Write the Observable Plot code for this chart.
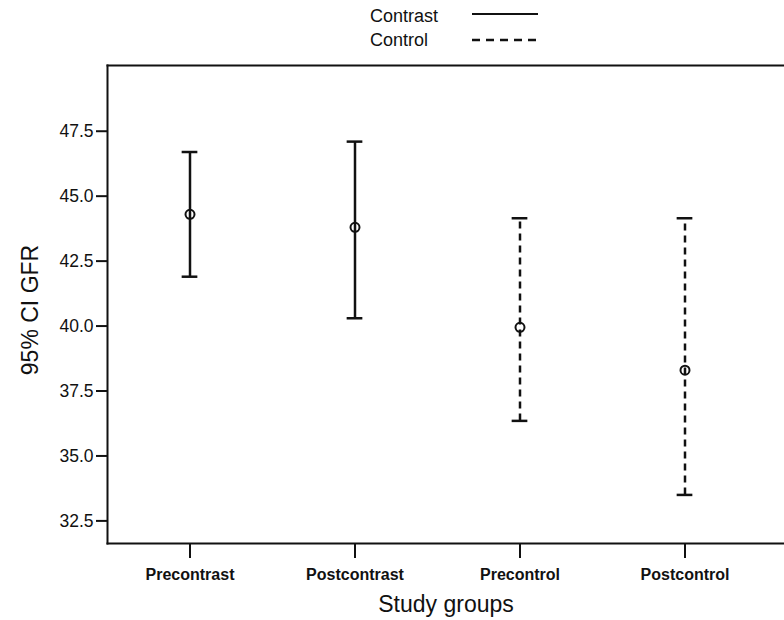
<!DOCTYPE html>
<html>
<head>
<meta charset="utf-8">
<script src="https://cdn.jsdelivr.net/npm/d3@7"></script>
<script src="https://cdn.jsdelivr.net/npm/@observablehq/plot@0.6"></script>
<style>
  body { margin: 0; background: #fff; font-family: "Liberation Sans", Arial, sans-serif; }
  #wrap { position: relative; width: 784px; }
  #legend { position: relative; height: 50px; width: 784px; }
  .lg { position: absolute; font-size: 18px; color: #111; line-height: 20px; }
  #ylab { position: absolute; left: 30px; top: 310px; font-size: 23px; color: #111; white-space: nowrap;
          transform: translate(-50%, -50%) rotate(-90deg); line-height: 26px; }
</style>
</head>
<body>
<div id="wrap">
  <div id="legend">
    <div class="lg" style="left:370px; top:6px;">Contrast</div>
    <div class="lg" style="left:370px; top:30px;">Control</div>
    <svg style="position:absolute; left:0; top:0;" width="784" height="50">
      <line x1="472" x2="538" y1="14" y2="14" stroke="#111" stroke-width="2"/>
      <line x1="472" x2="538" y1="40" y2="40" stroke="#111" stroke-width="2.5" stroke-dasharray="8,6"/>
    </svg>
  </div>
  <div id="chart"></div>
  <div id="ylab"></div>
</div>
<script>
const groups = ["Precontrast", "Postcontrast", "Precontrol", "Postcontrol"];
const arms   = ["Contrast", "Contrast", "Control", "Control"];
const means  = [44.3, 43.8, 39.95, 38.3];
const lower  = [41.9, 40.3, 36.35, 33.5];
const upper  = [46.7, 47.1, 44.15, 44.15];
const yTicks = [32.5, 35.0, 37.5, 40.0, 42.5, 45.0, 47.5];
const yLabel = "95% CI GFR";
const xLabel = "Study groups";

const data = groups.map((g, i) => ({group: g, arm: arms[i], mean: means[i], lo: lower[i], hi: upper[i]}));
const contrast = data.filter(d => d.arm === "Contrast");
const control = data.filter(d => d.arm === "Control");

const capHalf = 8;
const step = 165.3;
const inset = step / 2 - capHalf;

const plot = Plot.plot({
  width: 784,
  height: 570,
  marginLeft: 107,
  marginRight: 0,
  marginTop: 15,
  marginBottom: 77,
  style: {fontFamily: "Liberation Sans, Arial, sans-serif", color: "#111", background: "#fff"},
  x: {type: "band", domain: groups, paddingInner: 0, paddingOuter: 0.048, align: 0, axis: null},
  y: {domain: [31.63, 50.03], axis: null},
  marks: [
    Plot.frame({anchor: "top", stroke: "#111", strokeWidth: 2}),
    Plot.frame({anchor: "left", stroke: "#111", strokeWidth: 2}),
    Plot.frame({anchor: "bottom", stroke: "#111", strokeWidth: 2}),
    Plot.axisY({ticks: yTicks, tickFormat: d3.format(".1f"), tickSize: 11, tickPadding: 3, fontSize: 17.5, label: null, strokeWidth: 2}),
    Plot.axisX({tickSize: 15, tickPadding: 10, fontSize: 16, fontWeight: "bold", label: null, strokeWidth: 2}),
    Plot.text([xLabel], {frameAnchor: "bottom", dy: 68, fontSize: 23}),
    Plot.ruleX(contrast, {x: "group", y1: "lo", y2: "hi", stroke: "#111", strokeWidth: 2.5}),
    Plot.ruleX(control, {x: "group", y1: "lo", y2: "hi", stroke: "#111", strokeWidth: 2.5, strokeDasharray: "7,5"}),
    Plot.tickY(data, {x: "group", y: "lo", stroke: "#111", strokeWidth: 2.5, insetLeft: inset, insetRight: inset}),
    Plot.tickY(data, {x: "group", y: "hi", stroke: "#111", strokeWidth: 2.5, insetLeft: inset, insetRight: inset}),
    Plot.dot(data, {x: "group", y: "mean", r: 4.5, stroke: "#111", strokeWidth: 2, fill: "none"})
  ]
});
document.getElementById("chart").appendChild(plot);
document.getElementById("ylab").textContent = yLabel;
</script>
</body>
</html>
